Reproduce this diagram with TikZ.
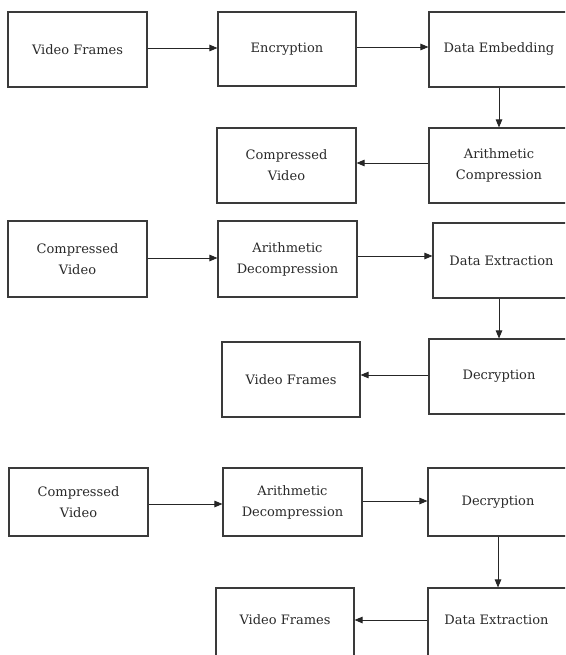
\documentclass[tikz,border=0pt]{standalone}
\usepackage{fontspec}
\setmainfont{DejaVu Serif}
\usetikzlibrary{arrows.meta}
\definecolor{edgec}{HTML}{3A3A3A}
\definecolor{txtc}{HTML}{2A2A2A}
\begin{document}
\begin{tikzpicture}[x=1pt,y=-1pt,
  box/.style={draw=edgec, line width=1.1pt, inner sep=0pt, align=center,
    font=\fontsize{13}{21}\selectfont, text=txtc},
  lbl/.style={inner sep=0pt, align=center, font=\fontsize{13}{21}\selectfont, text=txtc},
  conn/.style={draw=black!85, line width=0.9pt, -{Triangle[length=8pt,width=6.5pt]}}]
\useasboundingbox (0,0) rectangle (565,655);
\fill[white] (0,0) rectangle (565,655);
\clip (0,0) rectangle (565,655);
% Row 1
\node[box, minimum width=139, minimum height=75] (vf1) at (77.5,49.5) {Video Frames};
\node[box, minimum width=138, minimum height=74] (enc) at (287,49) {Encryption};
\node[box, minimum width=140, minimum height=75] (de) at (499,49.5) {Data Embedding};
\node[box, minimum width=140, minimum height=75] (ac) at (499,165.5) {Arithmetic\\Compression};
\node[box, minimum width=139, minimum height=75] (cv1) at (286.5,165.5) {Compressed\\Video};
% Row 2
\node[box, minimum width=139, minimum height=76] (cv2) at (77.5,259) {Compressed\\Video};
\node[box, minimum width=139, minimum height=76] (ad2) at (287.5,259) {Arithmetic\\Decompression};
\node[box, minimum width=137, minimum height=75] (dx2) at (501.5,260.5) {Data Extraction};
\node[box, minimum width=140, minimum height=75] (dc2) at (499,376.5) {Decryption};
\node[box, minimum width=138, minimum height=75] (vf2) at (291,379.5) {Video Frames};
% Row 3
\node[box, minimum width=139, minimum height=68] (cv3) at (78.5,502) {Compressed\\Video};
\node[box, minimum width=139, minimum height=68] (ad3) at (292.5,502) {Arithmetic\\Decompression};
\node[box, minimum width=140, minimum height=68] (dc3) at (498,502) {Decryption};
\node[box, minimum width=138, minimum height=76] (vf3) at (285,626) {};
\node[lbl] (vf3t) at (285,620) {Video Frames};
\node[box, minimum width=140, minimum height=76] (dx3) at (498,626) {};
\node[lbl] (dx3t) at (496.5,620) {Data Extraction};
% Connectors
\draw[conn] ([yshift=1.5pt]vf1.east) -- ([yshift=1.5pt]vf1.east -| enc.west);
\draw[conn] ([yshift=2pt]enc.east) -- ([yshift=2pt]enc.east -| de.west);
\draw[conn] (de.south) -- (ac.north);
\draw[conn] ([yshift=2.5pt]ac.west) -- ([yshift=2.5pt]ac.west -| cv1.east);
\draw[conn] ([yshift=1pt]cv2.east) -- ([yshift=1pt]cv2.east -| ad2.west);
\draw[conn] ([yshift=3pt]ad2.east) -- ([yshift=3pt]ad2.east -| dx2.west);
\draw[conn] (dx2.south -| dc2.north) -- (dc2.north);
\draw[conn] ([yshift=1.5pt]dc2.west) -- ([yshift=1.5pt]dc2.west -| vf2.east);
\draw[conn] ([yshift=-2pt]cv3.east) -- ([yshift=-2pt]cv3.east -| ad3.west);
\draw[conn] ([yshift=1pt]ad3.east) -- ([yshift=1pt]ad3.east -| dc3.west);
\draw[conn] (dc3.south) -- (dx3.north);
\draw[conn] (dx3t -| dx3.west) -- (dx3t -| vf3.east);
\end{tikzpicture}
\end{document}
